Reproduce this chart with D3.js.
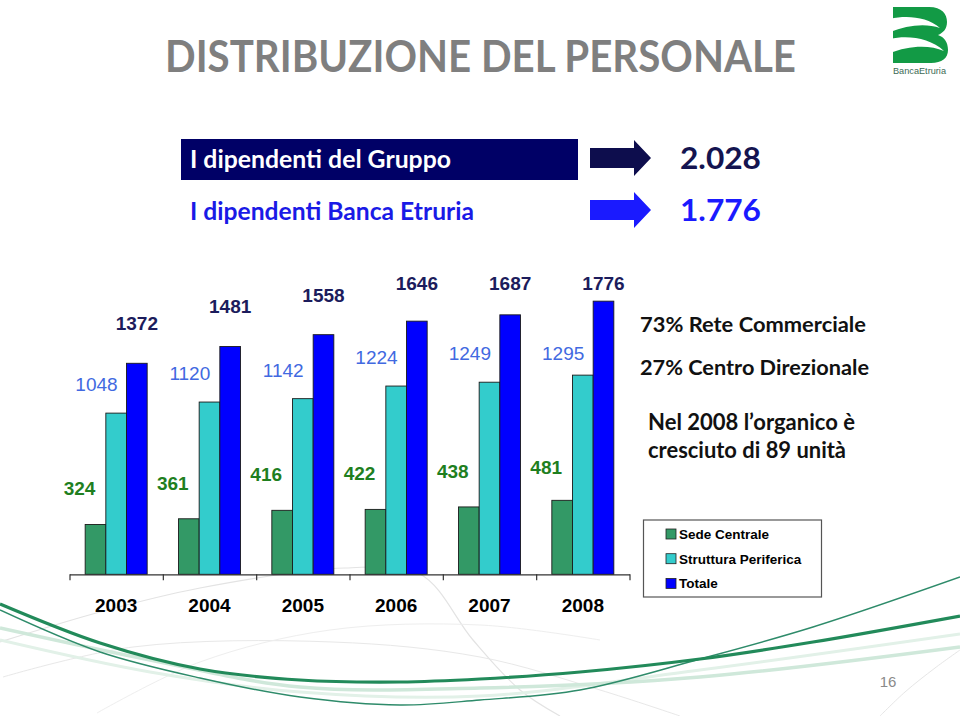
<!DOCTYPE html>
<html><head><meta charset="utf-8">
<script src="https://cdn.jsdelivr.net/npm/d3@7"></script>
<style>body{margin:0;background:#fff}svg{display:block}</style>
</head><body><svg id="c" width="960" height="716"></svg>
<script>
// ---- data ----
const years = ["2003","2004","2005","2006","2007","2008"];
const seriesNames = ["Sede Centrale","Struttura Periferica","Totale"];
const sede = [324,361,416,422,438,481];
const struttura = [1048,1120,1142,1224,1249,1295];
const totale = [1372,1481,1558,1646,1687,1776];
const headerLabels = ["I dipendenti del Gruppo","I dipendenti Banca Etruria"];
const headerValues = ["2.028","1.776"];
const notes = ["73% Rete Commerciale","27% Centro Direzionale"];
const growthNote = ["Nel 2008 l\u2019organico \u00e8","cresciuto di 89 unit\u00e0"];
const titleText = "DISTRIBUZIONE DEL PERSONALE";
const pageNumber = "16";

const colors = {"Sede Centrale":"#339966","Struttura Periferica":"#33CCCC","Totale":"#0000FF"};
const svg = d3.select("#c");
const SANS = "'Liberation Sans', Arial, sans-serif";
const HUM = "Lato, 'Open Sans', sans-serif";

// ---- background decoration (slide template swooshes) ----
const deco = svg.append("g").attr("fill","none");
const sw = d3.line().curve(d3.curveCatmullRom.alpha(0.5));
const decoPaths = [
  {p:[[0,642],[100,612],[200,588],[345,568],[420,574],[473,640],[520,690],[560,716]], c:"#e3e3e3", w:1.2},
  {p:[[3,677],[133,647],[333,642],[480,657],[600,690],[680,716]], c:"#e8e8e8", w:1},
  {p:[[97,713],[200,662],[330,630],[480,625],[600,640]], c:"#eeeeee", w:1},
  {p:[[880,716],[905,692],[935,668],[960,650]], c:"#e6e6e6", w:1},
  {p:[[0,640],[150,672],[300,692],[480,696],[700,670],[960,634]], c:"#e2f1e8", w:3},
  {p:[[0,628],[150,660],[300,687],[480,688],[700,677],[960,647]], c:"#cfe8da", w:3.5},
  {p:[[0,610],[100,652],[200,678],[300,697],[400,705],[480,700],[580,690],[700,659],[813,627],[960,577]], c:"#2e8b6a", w:1.4},
  {p:[[0,604],[100,643],[200,669],[300,680],[400,682],[480,679],[580,672],[700,659],[813,642],[960,616]], c:"#228a5a", w:3.2}
];
decoPaths.forEach(d=>deco.append("path").attr("d",sw(d.p)).attr("stroke",d.c).attr("stroke-width",d.w));

// ---- title ----
svg.append("text").attr("x",165).attr("y",72).text(titleText)
  .attr("font-family",HUM).attr("font-weight","bold").attr("font-size",43)
  .attr("fill","#7f7f7f").attr("textLength",631).attr("lengthAdjust","spacingAndGlyphs");

// ---- logo ----
const logo = svg.append("g");
logo.append("path").attr("d","M893,7 H929 C942,7 947,14 947,22 C947,29 943,33 938,35 C944,37 948,42 948,50 C948,58 942,63 931,63 H893 Z").attr("fill","#129a45");
logo.append("path").attr("d","M890,19 C907,15 927,17 940,28 C926,23 907,25 890,32 Z").attr("fill","#fff");
logo.append("path").attr("d","M890,39 C908,35 930,38 944,51 C929,44 907,46 890,53 Z").attr("fill","#fff");
logo.append("text").attr("x",893).attr("y",74).text("BancaEtruria").attr("font-family",SANS)
  .attr("font-size",9).attr("fill","#3c6a55").attr("textLength",53).attr("lengthAdjust","spacingAndGlyphs");

// ---- header ----
svg.append("rect").attr("x",181).attr("y",139).attr("width",397).attr("height",41).attr("fill","#000066");
const hdrCol = ["#ffffff","#1a1ae6"];
const valCol = ["#141450","#1a1aff"];
const arrowCol = ["#0d0d4d","#1a1aff"];
const hdrBase = [168,220];
const hdrLen = [261,284];
headerLabels.forEach((t,i)=>{
  svg.append("text").attr("x",190).attr("y",hdrBase[i]).text(t)
    .attr("font-family",HUM).attr("font-weight","bold").attr("font-size",24)
    .attr("fill",hdrCol[i]).attr("textLength",hdrLen[i]).attr("lengthAdjust","spacingAndGlyphs");
  const cy = [158,210][i];
  svg.append("path").attr("d",`M590,${cy-10} H634 V${cy-18} L651,${cy} L634,${cy+18} V${cy+10} H590 Z`).attr("fill",arrowCol[i]);
  svg.append("text").attr("x",680).attr("y",hdrBase[i]+1).text(headerValues[i])
    .attr("font-family",HUM).attr("font-weight","bold").attr("font-size",31)
    .attr("fill",valCol[i]).attr("textLength",81).attr("lengthAdjust","spacingAndGlyphs");
});

// ---- chart ----
const x0 = d3.scaleBand().domain(years).range([69.5,629.5]).padding(0);
const x1 = d3.scaleBand().domain(seriesNames).range([0,x0.bandwidth()]).paddingInner(0).paddingOuter(0.758);
const y = d3.scaleLinear().domain([0,2000]).range([574.3,266.7]);
const seriesVals = {"Sede Centrale":sede,"Struttura Periferica":struttura,"Totale":totale};

const bars = [];
seriesNames.forEach(s=>years.forEach((yr,i)=>bars.push({s,yr,v:seriesVals[s][i]})));
svg.append("g").selectAll("rect").data(bars).join("rect")
  .attr("x",d=>x0(d.yr)+x1(d.s)).attr("width",x1.bandwidth())
  .attr("y",d=>y(d.v)).attr("height",d=>y(0)-y(d.v))
  .attr("fill",d=>colors[d.s]).attr("stroke","#1a1a1a").attr("stroke-width",0.9);

// axis with boundary ticks
const xb = d3.scaleLinear().domain([0,years.length]).range(x0.range());
const ax = svg.append("g").attr("transform",`translate(0,${y(0)})`)
  .call(d3.axisBottom(xb).tickValues(d3.range(years.length+1)).tickSize(6).tickSizeOuter(0).tickFormat(""));
ax.selectAll("path,line").attr("stroke","#333").attr("stroke-width",1.2);

svg.append("g").selectAll("text").data(years).join("text")
  .attr("x",d=>x0(d)+x0.bandwidth()/2).attr("y",612).attr("text-anchor","middle")
  .attr("font-family",SANS).attr("font-weight","bold").attr("font-size",19).attr("fill","#000").text(d=>d);

// value labels
const fs = 19;
const lab = svg.append("g").attr("font-family",SANS).attr("font-size",fs).attr("text-anchor","middle");
const bw1 = x1.bandwidth();
lab.selectAll(".lt").data(years).join("text").attr("class","lt")
  .attr("x",d=>x0(d)+x1("Totale")+bw1/2)
  .attr("y",(d,i)=>Math.max(283, y(totale[i])-40)+0.36*fs)
  .attr("font-weight","bold").attr("fill","#1c1c5c").text((d,i)=>totale[i]);
lab.selectAll(".ls").data(years).join("text").attr("class","ls")
  .attr("x",d=>x0(d)+x1("Sede Centrale")+bw1/2+1)
  .attr("y",(d,i)=>Math.max(353, y(struttura[i])-29)+0.36*fs)
  .attr("fill","#4169e1").text((d,i)=>struttura[i]);
lab.selectAll(".lc").data(years).join("text").attr("class","lc")
  .attr("x",d=>x0(d)+x1("Sede Centrale")+bw1/2-16)
  .attr("y",(d,i)=>Math.max(467, y(sede[i])-36)+0.36*fs)
  .attr("font-weight","bold").attr("fill","#1f7f1f").text((d,i)=>sede[i]);

// ---- notes ----
const noteBase = [332,375];
const noteLen = [226,229];
notes.forEach((t,i)=>{
  svg.append("text").attr("x",640).attr("y",noteBase[i]).text(t)
    .attr("font-family",HUM).attr("font-weight","bold").attr("font-size",21).attr("fill","#111")
    .attr("textLength",noteLen[i]).attr("lengthAdjust","spacingAndGlyphs");
});
const gBase = [429.5,457.5];
const gLen = [207,198];
growthNote.forEach((t,i)=>{
  svg.append("text").attr("x",648).attr("y",gBase[i]).text(t)
    .attr("font-family",HUM).attr("font-weight","bold").attr("font-size",22).attr("fill","#111")
    .attr("textLength",gLen[i]).attr("lengthAdjust","spacingAndGlyphs");
});

// ---- legend ----
const lg = svg.append("g");
lg.append("rect").attr("x",643.5).attr("y",520).attr("width",178).attr("height",77)
  .attr("fill","#fff").attr("stroke","#555").attr("stroke-width",1.2);
seriesNames.forEach((s,i)=>{
  const cy = 534 + i*24.7;
  lg.append("rect").attr("x",666).attr("y",cy-5).attr("width",10).attr("height",10)
    .attr("fill",colors[s]).attr("stroke","#222").attr("stroke-width",0.8);
  lg.append("text").attr("x",679).attr("y",cy+5).text(s)
    .attr("font-family",SANS).attr("font-weight","bold").attr("font-size",13.5).attr("fill","#000");
});

// ---- page number ----
svg.append("text").attr("x",888).attr("y",687).attr("text-anchor","middle").text(pageNumber)
  .attr("font-family",SANS).attr("font-size",15).attr("fill","#8a8a8a");
</script></body></html>
